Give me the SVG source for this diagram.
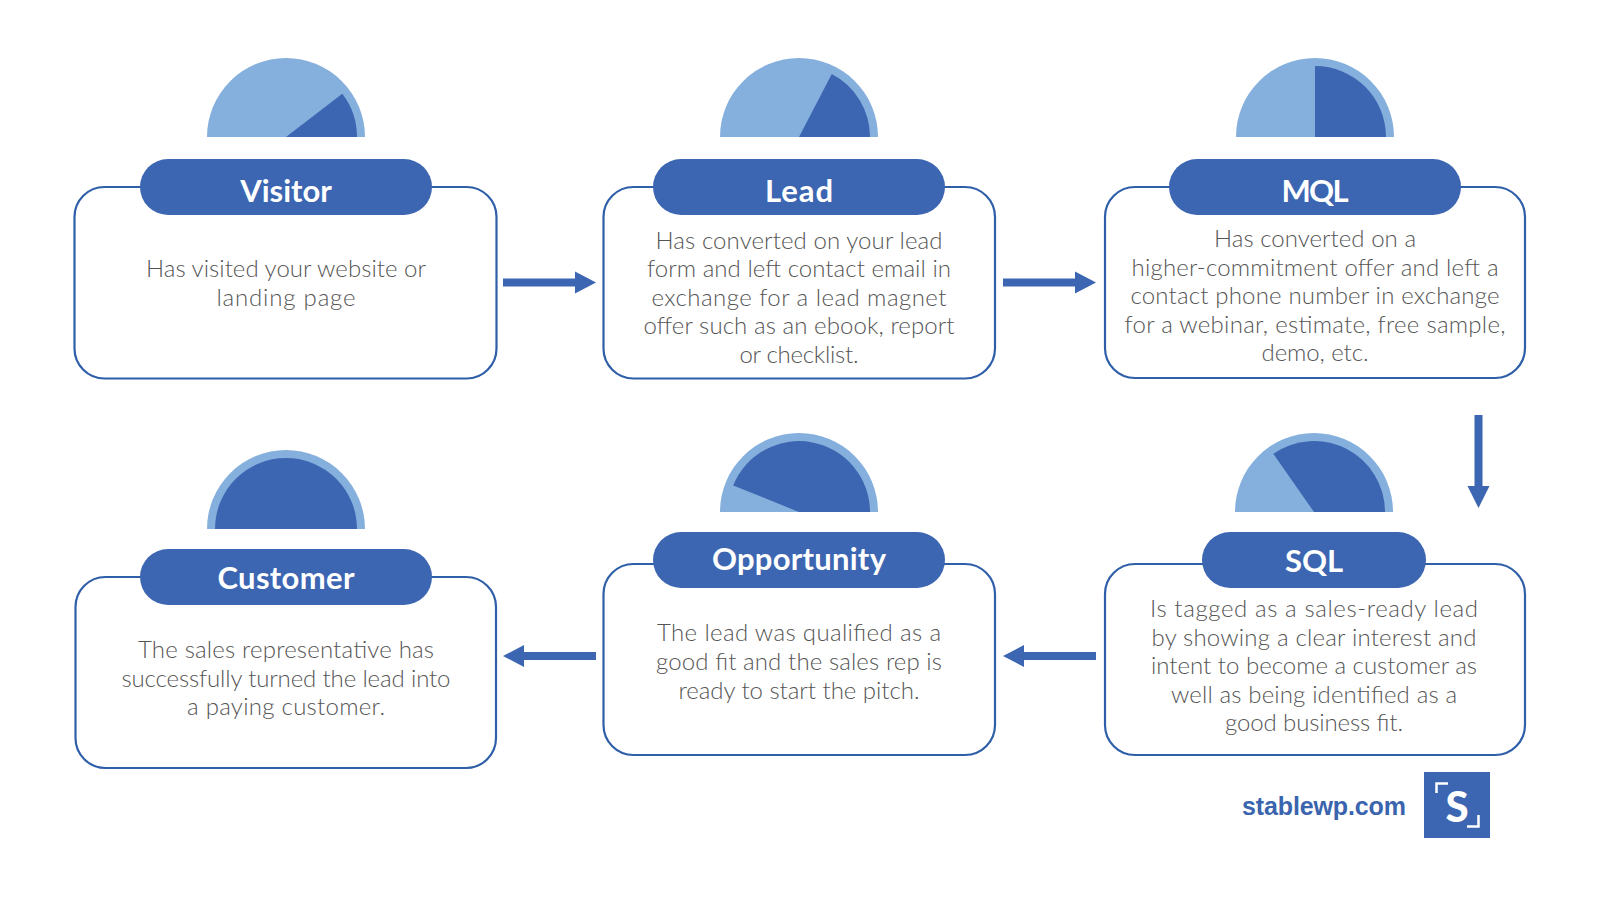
<svg xmlns="http://www.w3.org/2000/svg" width="1600" height="900" viewBox="0 0 1600 900">
<style>
.box{fill:#fff;stroke:#2f5fa8;stroke-width:2.2}
.pill{fill:#3c66b1}
.lt{fill:#85afdd}
.dk{fill:#3c66b1}
.title{font-family:"Lato","Liberation Sans",sans-serif;font-weight:700;font-size:31px;fill:#fff;text-anchor:middle}
.body{font-family:"Lato","Liberation Sans",sans-serif;font-weight:300;font-size:24px;fill:#555;text-anchor:middle}
.arrow{fill:#3c66b1}
</style>
<rect width="1600" height="900" fill="#fff"/>
<g id="connectors">
<path class="arrow" d="M503 278.500H575V271.500L596 282.500L575 293.500V286.500H503Z"/>
<path class="arrow" d="M1003 278.500H1075V271.500L1096 282.500L1075 293.500V286.500H1003Z"/>
<path class="arrow" d="M1474.500 415H1482.500V486H1489.500L1478.500 508L1467.500 486H1474.500Z"/>
<path class="arrow" d="M1096 652H1024V645L1003 656L1024 667V660H1096Z"/>
<path class="arrow" d="M596 652H524V645L503 656L524 667V660H596Z"/>
</g>
<g id="visitor">
<path class="lt" d="M207 137A79 79 0 0 1 365 137Z"/>
<path class="dk" d="M286 137L342.300 93.800A71 71 0 0 1 357 137Z"/>
<rect class="box" x="74.500" y="187" width="422" height="191.500" rx="30"/>
<rect class="pill" x="140" y="159" width="292" height="56" rx="28"/>
<text class="title" x="286" y="202">Visitor</text>
<text class="body" x="286" y="277" textLength="280">Has visited your website or</text>
<text class="body" x="286" y="305.500" textLength="139">landing page</text>
</g>
<g id="lead">
<path class="lt" d="M720 137A79 79 0 0 1 878 137Z"/>
<path class="dk" d="M799 137L831.800 74A71 71 0 0 1 870 137Z"/>
<rect class="box" x="603.500" y="187" width="391.500" height="191.500" rx="30"/>
<rect class="pill" x="653" y="159" width="292" height="56" rx="28"/>
<text class="title" x="799" y="202" textLength="68">Lead</text>
<text class="body" x="799" y="249" textLength="287">Has converted on your lead</text>
<text class="body" x="799" y="277" textLength="304">form and left contact email in</text>
<text class="body" x="799" y="306" textLength="295">exchange for a lead magnet</text>
<text class="body" x="799" y="334" textLength="311">offer such as an ebook, report</text>
<text class="body" x="799" y="363" textLength="119">or checklist.</text>
</g>
<g id="mql">
<path class="lt" d="M1236 137A79 79 0 0 1 1394 137Z"/>
<path class="dk" d="M1315 137V66A71 71 0 0 1 1386 137Z"/>
<rect class="box" x="1105" y="187" width="420" height="191" rx="30"/>
<rect class="pill" x="1169" y="159" width="292" height="56" rx="28"/>
<text class="title" x="1315" y="202" textLength="67">MQL</text>
<text class="body" x="1315" y="247" textLength="202">Has converted on a</text>
<text class="body" x="1315" y="275.500" textLength="367">higher-commitment offer and left a</text>
<text class="body" x="1315" y="304" textLength="369">contact phone number in exchange</text>
<text class="body" x="1315" y="332.500" textLength="381">for a webinar, estimate, free sample,</text>
<text class="body" x="1315" y="361" textLength="107">demo, etc.</text>
</g>
<g id="sql">
<path class="lt" d="M1235 512A79 79 0 0 1 1393 512Z"/>
<path class="dk" d="M1314 512L1273.300 453.800A71 71 0 0 1 1385 512Z"/>
<rect class="box" x="1105" y="564" width="420" height="191" rx="30"/>
<rect class="pill" x="1202" y="532" width="224" height="56" rx="28"/>
<text class="title" x="1314" y="572">SQL</text>
<text class="body" x="1314" y="617" textLength="328">Is tagged as a sales-ready lead</text>
<text class="body" x="1314" y="645.500" textLength="325">by showing a clear interest and</text>
<text class="body" x="1314" y="674" textLength="326">intent to become a customer as</text>
<text class="body" x="1314" y="702.500" textLength="286">well as being identified as a</text>
<text class="body" x="1314" y="731" textLength="178">good business fit.</text>
</g>
<g id="opportunity">
<path class="lt" d="M720 512A79 79 0 0 1 878 512Z"/>
<path class="dk" d="M799 512L733.200 485.400A71 71 0 0 1 870 512Z"/>
<rect class="box" x="603.500" y="564" width="391.500" height="191" rx="30"/>
<rect class="pill" x="653" y="532" width="292" height="56" rx="28"/>
<text class="title" x="799" y="570" textLength="174">Opportunity</text>
<text class="body" x="799" y="641" textLength="284">The lead was qualified as a</text>
<text class="body" x="799" y="670" textLength="286">good fit and the sales rep is</text>
<text class="body" x="799" y="698.500" textLength="241">ready to start the pitch.</text>
</g>
<g id="customer">
<path class="lt" d="M207 529A79 79 0 0 1 365 529Z"/>
<path class="dk" d="M215 529A71 71 0 0 1 357 529Z"/>
<rect class="box" x="75.500" y="577" width="420.500" height="191" rx="30"/>
<rect class="pill" x="140" y="549" width="292" height="56" rx="28"/>
<text class="title" x="286" y="589" textLength="137">Customer</text>
<text class="body" x="286" y="658" textLength="296">The sales representative has</text>
<text class="body" x="286" y="687" textLength="329">successfully turned the lead into</text>
<text class="body" x="286" y="715" textLength="198">a paying customer.</text>
</g>
<g id="logo">
<text x="1242" y="815" font-family="Liberation Sans, sans-serif" font-weight="700" font-size="25px" fill="#3a64ae" textLength="164">stablewp.com</text>
<rect x="1424" y="772" width="66" height="66" fill="#3c66b1"/>
<text x="1457" y="821.500" font-family="Lato, Liberation Sans, sans-serif" font-weight="900" font-size="42px" fill="#fff" text-anchor="middle">S</text>
<path d="M1436.500 793V783.500H1448M1478.500 815V826.500H1467" fill="none" stroke="#fff" stroke-width="2.500"/>
</g>
</svg>
